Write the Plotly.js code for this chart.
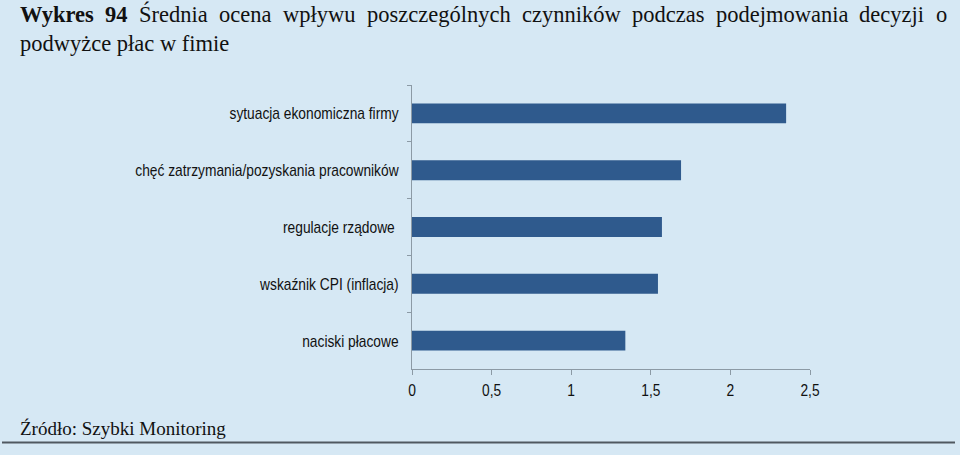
<!DOCTYPE html>
<html><head><meta charset="utf-8">
<script src="https://cdn.plot.ly/plotly-3.0.1.min.js"></script>
<style>html,body{margin:0;padding:0;background:#d6e8f4;}#chart{width:960px;height:455px;}</style>
</head><body><div id="chart"></div>
<script>
const categories = ["sytuacja ekonomiczna firmy","chęć zatrzymania/pozyskania pracowników","regulacje rządowe ","wskaźnik CPI (inflacja)","naciski płacowe"];
const values = [2.35, 1.69, 1.57, 1.545, 1.34];
const xTicks = [0, 0.5, 1, 1.5, 2, 2.5];
const titleLine1 = ["<b>Wykres</b>","<b>94</b>","Średnia","ocena","wpływu","poszczególnych","czynników","podczas","podejmowania","decyzji","o"];
const titleLine2 = "podwyżce płac w fimie";
const sourceText = "Źródło: Szybki Monitoring";

const W = 960, H = 455;
const M = {l: 412, r: 150, t: 85, b: 86};
const pw = W - M.l - M.r, ph = H - M.t - M.b;
const px = x => (x - M.l) / pw;
const py = y => (H - M.b - y) / ph;

const serif = "Liberation Serif, serif";
const sans = "Liberation Sans, Arial";
const cv = document.createElement('canvas').getContext('2d');
function meas(t, size, bold){ cv.font = (bold?'bold ':'') + size + 'px "Liberation Serif"'; return cv.measureText(t).width; }
let fs = 20 * 207 / meas(titleLine2, 20, false);
fs = Math.round(fs*2)/2;
let fsSrc = 20 * 206 / meas(sourceText, 20, false);
fsSrc = Math.round(fsSrc*2)/2;

const ann = [];
const words = titleLine1.map(w => ({t: w, bold: w.startsWith('<b>'), raw: w.replace(/<\/?b>/g,'')}));
const widths = words.map(w => meas(w.raw, fs, w.bold));
const total = widths.reduce((a,b)=>a+b,0);
const gap = (945 - 18 - total) / (words.length - 1);
let cx = 18;
words.forEach((w,i) => {
  ann.push({xref:'paper', yref:'paper', x: px(cx), y: py(25), xanchor:'left', yanchor:'bottom', yshift:-4, showarrow:false, text: w.t, font:{family: serif, size: fs, color:'#111'}});
  cx += widths[i] + gap;
});
ann.push({xref:'paper', yref:'paper', x: px(18), y: py(54), xanchor:'left', yanchor:'bottom', yshift:-4, showarrow:false, text: titleLine2, font:{family: serif, size: fs, color:'#111'}});
ann.push({xref:'paper', yref:'paper', x: px(18), y: py(437), xanchor:'left', yanchor:'bottom', yshift:-4, showarrow:false, text: sourceText, font:{family: serif, size: fsSrc, color:'#111'}});

const data = [{
  type:'bar', orientation:'h', x: values, y: categories,
  marker:{color:'#2f5a8d', line:{width:0}}, hoverinfo:'none'
}];
const layout = {
  width: W, height: H, margin: M,
  paper_bgcolor:'#d6e8f4', plot_bgcolor:'#d6e8f4',
  separators: ', ',
  showlegend:false, bargap: 0.65,
  xaxis:{range:[0,2.5], tickvals: xTicks, showgrid:false, zeroline:false, showline:true, linecolor:'#8c9aa5', linewidth:1,
    ticks:'outside', ticklen:5, tickcolor:'#8c9aa5', ticklabelstandoff: 1, tickfont:{family: sans, size:17, color:'#111'}},
  yaxis:{type:'category', categoryorder:'array', categoryarray: categories, autorange:'reversed', showgrid:false, zeroline:false,
    showline:true, linecolor:'#8c9aa5', linewidth:1, ticks:'outside', ticklen:4, tickcolor:'#8c9aa5', tickson:'boundaries',
    ticklabelstandoff: 9, tickfont:{family: sans, size:17, color:'#111'}},
  annotations: ann,
  shapes:[{type:'line', xref:'paper', yref:'paper', x0: px(2), x1: px(955), y0: py(442.5), y1: py(442.5), line:{color:'#505860', width:2}}]
};
Plotly.newPlot('chart', data, layout, {staticPlot:true, displayModeBar:false}).then(gd => {
  // condensed look of the original sans labels
  gd.querySelectorAll('.ytick text, .xtick text').forEach(t => {
    const len = t.getComputedTextLength();
    t.setAttribute('textLength', (len * 0.81).toFixed(1));
    t.setAttribute('lengthAdjust', 'spacingAndGlyphs');
  });
});
</script></body></html>
